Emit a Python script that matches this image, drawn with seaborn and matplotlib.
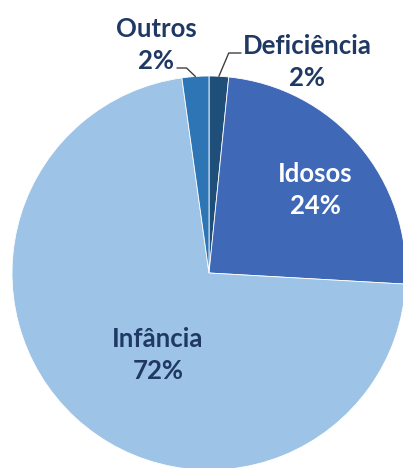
import numpy as np
import matplotlib
matplotlib.use("Agg")
import matplotlib.pyplot as plt
import seaborn as sns

# Dados do gráfico (sentido horário a partir do topo)
categorias = ["Deficiência", "Idosos", "Infância", "Outros"]
valores = [1.6, 24.3, 71.9, 2.2]
rotulos_pct = ["2%", "24%", "72%", "2%"]
cores = ["#1F4E79", "#3F68B7", "#9DC3E6", "#2E75B6"]

sns.set_theme(style="white")
plt.rcParams["font.family"] = ["Lato", "DejaVu Sans"]

fig = plt.figure(figsize=(4.03, 4.68), dpi=100)
ax = fig.add_axes([0, 0, 1, 1])

wedges, _ = ax.pie(valores, colors=cores, startangle=90, counterclock=False,
                   radius=1.0, wedgeprops=dict(linewidth=0.6, edgecolor="white"))

# janela de visualização: escala de 197 px por unidade
esc = 197
ax.set_xlim(-209 / esc, 194 / esc)
ax.set_ylim(-195 / esc, 273 / esc)
ax.set_aspect("equal")
ax.axis("off")

cor_texto = "#1F3864"
fs = 18.5
ls = 1.42

def px(x, y):
    return (x - 209) / esc, (273 - y) / esc

# rótulos internos
x, y = px(315, 190)
ax.text(x, y, f"{categorias[1]}\n{rotulos_pct[1]}", color="white", fontsize=fs,
        fontweight="bold", ha="center", va="center", linespacing=ls)
x, y = px(158, 355)
ax.text(x, y, f"{categorias[2]}\n{rotulos_pct[2]}", color=cor_texto, fontsize=fs,
        fontweight="bold", ha="center", va="center", linespacing=ls)

# rótulos externos com linha guia
def guia(w, lx, ly, elbow_dx):
    ang = np.deg2rad((w.theta1 + w.theta2) / 2)
    ex, ey = np.cos(ang), np.sin(ang)
    mx, my = px(lx, ly)
    bx = ex + elbow_dx
    ax.plot([ex, bx, mx], [ey, my, my], color="#404040", lw=1.0)

x, y = px(307, 62)
ax.text(x, y, f"{categorias[0]}\n{rotulos_pct[0]}", color=cor_texto, fontsize=fs,
        fontweight="bold", ha="center", va="center", linespacing=ls)
guia(wedges[0], 241, 53, 0.05)

x, y = px(156, 45)
ax.text(x, y, f"{categorias[3]}\n{rotulos_pct[3]}", color=cor_texto, fontsize=fs,
        fontweight="bold", ha="center", va="center", linespacing=ls)
guia(wedges[3], 177, 68, -0.045)

fig.savefig("out.png", dpi=100, facecolor="white")
